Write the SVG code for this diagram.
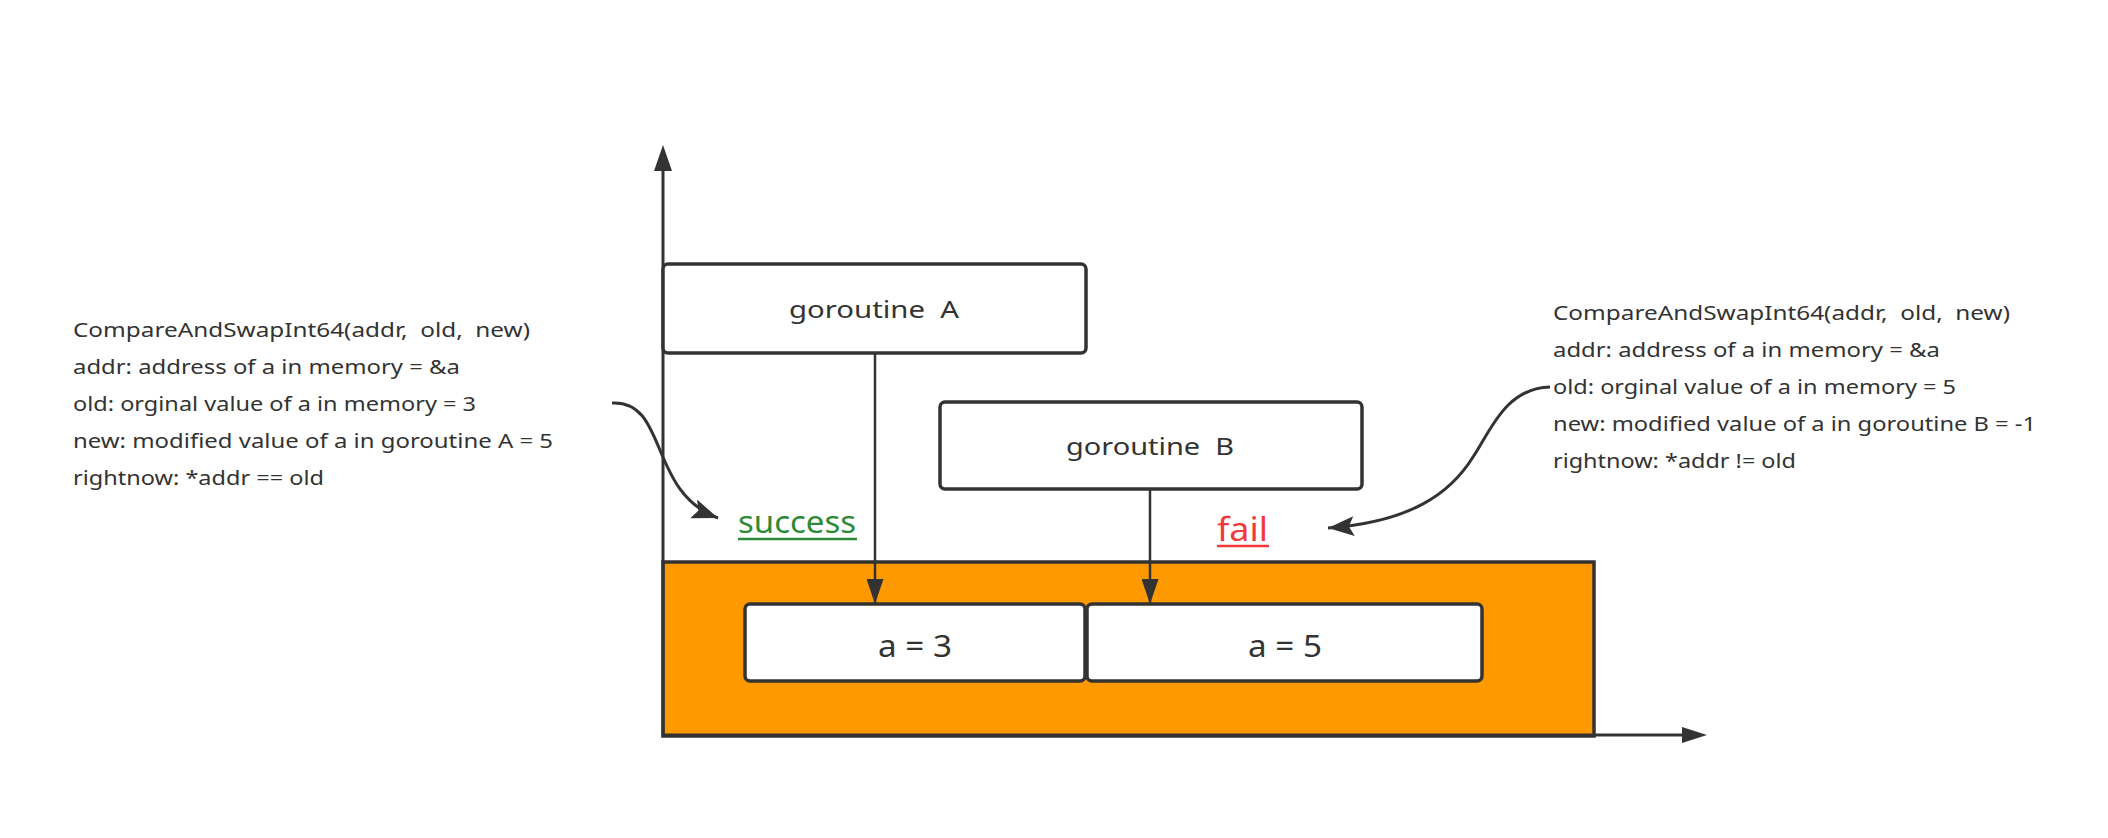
<svg xmlns="http://www.w3.org/2000/svg" width="2108" height="838" viewBox="0 0 2108 838">
<style>
text{font-family:"Noto Sans","DejaVu Sans",sans-serif;fill:#333;white-space:pre}
.note{font-size:20px}
.box{fill:#fff;stroke:#333;stroke-width:3.5}
.lbl{font-size:24px;text-anchor:middle}
.val{font-size:31px;text-anchor:middle}
.ax{stroke:#333;stroke-width:3;fill:none}
.con{stroke:#333;stroke-width:2.5;fill:none}
.curve{stroke:#333;stroke-width:3;fill:none}
</style>
<defs>
<marker id="big" viewBox="0 0 26 20" refX="26" refY="10" markerWidth="26" markerHeight="20" markerUnits="userSpaceOnUse" orient="auto">
<path d="M0,0 L26,10 L0,20 L5,10 z" fill="#333"/>
</marker>
<marker id="dn" viewBox="0 0 25 17" refX="25" refY="8.5" markerWidth="25" markerHeight="17" markerUnits="userSpaceOnUse" orient="auto">
<path d="M0,0 L25,8.5 L0,17 z" fill="#333"/>
</marker>
</defs>

<g id="memory">
<rect x="663" y="562" width="931" height="174" fill="#ff9900" stroke="#333" stroke-width="3.5"/>
</g>

<g id="axes">
<line class="ax" x1="663" y1="737" x2="663" y2="170"/>
<path d="M663,145 L672,171 L654,171 z" fill="#333"/>
<line class="ax" x1="663" y1="735" x2="1684" y2="735"/>
<path d="M1707,735 L1682,743 L1682,727 z" fill="#333"/>
</g>

<g id="goroutineA">
<rect class="box" x="663" y="264" width="423" height="89" rx="5"/>
<text class="lbl" x="874" y="318" textLength="170" lengthAdjust="spacingAndGlyphs">goroutine  A</text>
</g>

<g id="goroutineB">
<rect class="box" x="940" y="402" width="422" height="87" rx="5"/>
<text class="lbl" x="1150" y="455" textLength="168" lengthAdjust="spacingAndGlyphs">goroutine  B</text>
</g>

<g id="a3">
<rect class="box" x="745" y="604" width="340" height="77" rx="5"/>
<text class="val" x="915" y="657" textLength="74" lengthAdjust="spacingAndGlyphs">a = 3</text>
</g>

<g id="a5">
<rect class="box" x="1087" y="604" width="395" height="77" rx="5"/>
<text class="val" x="1285" y="657" textLength="74" lengthAdjust="spacingAndGlyphs">a = 5</text>
</g>

<g id="success">
<text x="738" y="533" style="font-size:30px;fill:#2d8a36" textLength="118" lengthAdjust="spacingAndGlyphs">success</text>
<line x1="738" y1="539" x2="857" y2="539" stroke="#2d8a36" stroke-width="2.5"/>
</g>

<g id="fail">
<text x="1217" y="541" style="font-size:32px;fill:#f03a3a" textLength="51" lengthAdjust="spacingAndGlyphs">fail</text>
<line x1="1217" y1="546" x2="1269" y2="546" stroke="#f03a3a" stroke-width="2.5"/>
</g>

<g id="noteA">
<text class="note" x="73" y="337" textLength="457" lengthAdjust="spacingAndGlyphs">CompareAndSwapInt64(addr,  old,  new)</text>
<text class="note" x="73" y="374" textLength="387" lengthAdjust="spacingAndGlyphs">addr: address of a in memory = &amp;a</text>
<text class="note" x="73" y="411" textLength="403" lengthAdjust="spacingAndGlyphs">old: orginal value of a in memory = 3</text>
<text class="note" x="73" y="448" textLength="480" lengthAdjust="spacingAndGlyphs">new: modified value of a in goroutine A = 5</text>
<text class="note" x="73" y="485" textLength="251" lengthAdjust="spacingAndGlyphs">rightnow: *addr == old</text>
</g>

<g id="noteB">
<text class="note" x="1553" y="320" textLength="457" lengthAdjust="spacingAndGlyphs">CompareAndSwapInt64(addr,  old,  new)</text>
<text class="note" x="1553" y="357" textLength="387" lengthAdjust="spacingAndGlyphs">addr: address of a in memory = &amp;a</text>
<text class="note" x="1553" y="394" textLength="403" lengthAdjust="spacingAndGlyphs">old: orginal value of a in memory = 5</text>
<text class="note" x="1553" y="431" textLength="483" lengthAdjust="spacingAndGlyphs">new: modified value of a in goroutine B = -1</text>
<text class="note" x="1553" y="468" textLength="243" lengthAdjust="spacingAndGlyphs">rightnow: *addr != old</text>
</g>

<g id="connectors">
<line class="con" x1="875" y1="353" x2="875" y2="604" marker-end="url(#dn)"/>
<line class="con" x1="1150" y1="489" x2="1150" y2="604" marker-end="url(#dn)"/>
<path class="curve" d="M612,403 C668,400 648,492 718,518" marker-end="url(#big)"/>
<path class="curve" d="M1550,387 C1505,388 1490,432 1473,457 C1450,494 1410,522 1328,528" marker-end="url(#big)"/>
</g>
</svg>
